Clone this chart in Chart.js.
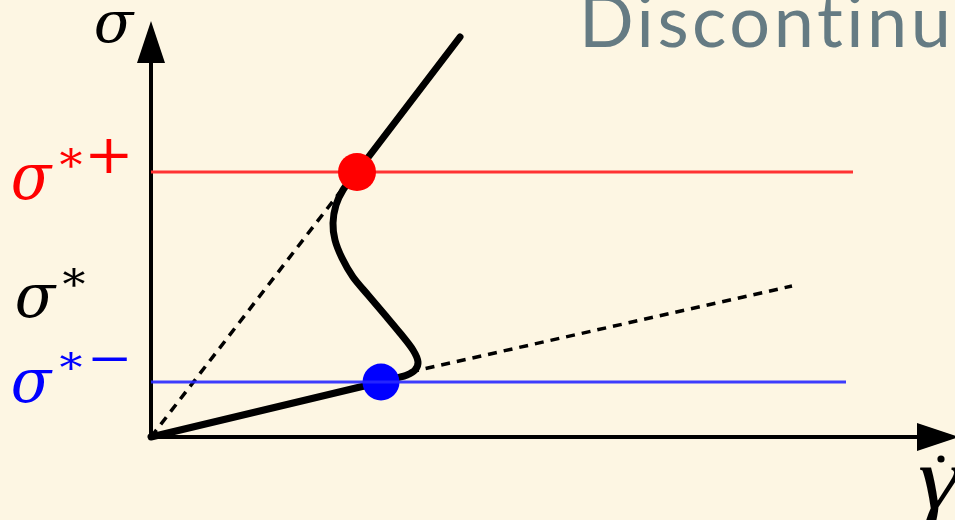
<!DOCTYPE html>
<html>
<head>
<meta charset="utf-8">
<style>
  html, body { margin: 0; padding: 0; background: #fdf6e3; }
  canvas { display: block; }
</style>
<script src="https://cdn.jsdelivr.net/npm/chart.js@4/dist/chart.umd.min.js"></script>
</head>
<body>
<canvas id="flow" width="955" height="520"></canvas>
<script>
// Flow curve sketch: shear stress sigma against shear rate gamma-dot,
// with an S-shaped (unstable) branch between two stress thresholds.
const lowerBranch = [[0, 0], [230, 55]];
const sBranch = [[230, 55], [246, 59], [256, 62], [264, 67], [267, 75], [262, 87],
                 [249, 104], [234, 122], [217, 142], [202, 160], [191, 179],
                 [184, 197], [182, 214], [185, 232], [192, 247], [206, 265]];
const upperBranch = [[206, 265], [309, 400]];
const upperGuide = [[0, 0], [189, 245]];
const lowerGuide = [[259, 65], [641, 151]];
const sigmaPlus = 265;
const sigmaMinus = 55;
const sigmaPlusEnd = 702;
const sigmaMinusEnd = 695;
const jumpPoints = { plus: [206, 265], minus: [230, 55] };
const axisEnds = { y: [0, 375], x: [766, 0] };
const arrowTips = { y: [0, 395], x: [787, 0] };

const toPts = arr => arr.map(([x, y]) => ({ x, y }));

// arrow head sprite (pointing up), rotated for the horizontal axis
function arrowHead(w, h) {
  const c = document.createElement('canvas');
  c.width = w; c.height = h;
  const g = c.getContext('2d');
  g.fillStyle = '#000';
  g.beginPath();
  g.moveTo(w / 2, 0);
  g.lineTo(w, h);
  g.lineTo(0, h);
  g.closePath();
  g.fill();
  return c;
}
const head = arrowHead(28, 42);

const bgPlugin = {
  id: 'bg',
  beforeDraw(chart) {
    const { ctx, width, height } = chart;
    ctx.save();
    ctx.fillStyle = '#fdf6e3';
    ctx.fillRect(0, 0, width, height);
    ctx.restore();
  }
};

// draw one glyph stretched into the box (x0,y0)-(x1,y1)
function fitGlyph(ctx, ch, font, color, x0, y0, x1, y1) {
  ctx.save();
  ctx.font = font;
  ctx.textAlign = 'left';
  ctx.textBaseline = 'alphabetic';
  const m = ctx.measureText(ch);
  const w = m.actualBoundingBoxLeft + m.actualBoundingBoxRight;
  const h = m.actualBoundingBoxAscent + m.actualBoundingBoxDescent;
  ctx.translate(x0, y0);
  ctx.scale((x1 - x0) / w, (y1 - y0) / h);
  ctx.fillStyle = color;
  ctx.fillText(ch, m.actualBoundingBoxLeft, m.actualBoundingBoxAscent);
  ctx.restore();
}

const labelPlugin = {
  id: 'labels',
  afterDraw(chart) {
    const { ctx } = chart;
    const py = v => chart.scales.y.getPixelForValue(v);
    const SIG = 'italic 100px "DejaVu Serif"';
    const UP = '100px "DejaVu Serif"';

    // title, spread to run from x=585 to x=948
    ctx.save();
    ctx.fillStyle = '#657b83';
    ctx.font = '72px Lato';
    ctx.textBaseline = 'alphabetic';
    const title = 'Discontinu';
    const tm = ctx.measureText(title);
    const natural = tm.actualBoundingBoxLeft + tm.actualBoundingBoxRight;
    const gap = Math.max(0, (363 - natural) / (title.length - 1));
    ctx.letterSpacing = gap.toFixed(2) + 'px';
    ctx.fillText(title, 585 + tm.actualBoundingBoxLeft, 47);
    ctx.restore();

    // axis name
    fitGlyph(ctx, 'σ', SIG, '#000', 95, 12, 135, 43);

    // upper threshold sigma*+
    const yp = py(sigmaPlus);
    fitGlyph(ctx, 'σ', SIG, '#ff0000', 12, yp - 7, 53, yp + 28);
    fitGlyph(ctx, '*', UP, '#ff0000', 60, yp - 25, 82, yp - 5);
    fitGlyph(ctx, '+', UP, '#ff0000', 90, yp - 32, 128, yp + 1);

    // critical stress sigma*
    fitGlyph(ctx, 'σ', SIG, '#000', 16, 285, 57, 318);
    fitGlyph(ctx, '*', UP, '#000', 63, 268, 85, 287);

    // lower threshold sigma*-
    const ym = py(sigmaMinus);
    fitGlyph(ctx, 'σ', SIG, '#0000ff', 12, ym - 12, 53, ym + 21);
    fitGlyph(ctx, '*', UP, '#0000ff', 60, ym - 30, 82, ym - 12);
    fitGlyph(ctx, '−', UP, '#0000ff', 92, ym - 25, 127, ym - 21);

    // shear-rate label with its dot
    fitGlyph(ctx, 'γ', 'italic 100px "Liberation Serif"', '#000', 919, 467, 962, 526);
    ctx.save();
    ctx.fillStyle = '#000';
    ctx.beginPath();
    ctx.arc(941, 459, 3.6, 0, Math.PI * 2);
    ctx.fill();
    ctx.restore();
  }
};

const lineDs = (data, color, width, extra) => Object.assign({
  data: toPts(data), showLine: true, borderColor: color, borderWidth: width,
  pointRadius: 0, pointHoverRadius: 0, fill: false, clip: false, tension: 0
}, extra || {});

new Chart(document.getElementById('flow'), {
  type: 'scatter',
  data: {
    datasets: [
      // first datasets are painted on top
      lineDs([[0, sigmaMinus], [sigmaMinusEnd, sigmaMinus]], 'rgba(40,40,255,0.9)', 3),
      {
        data: toPts([jumpPoints.plus]), pointRadius: 19, pointHoverRadius: 19,
        backgroundColor: '#ff0000', borderWidth: 0, showLine: false, clip: false
      },
      {
        data: toPts([jumpPoints.minus]), pointRadius: 18.5, pointHoverRadius: 18.5,
        backgroundColor: '#0000ff', borderWidth: 0, showLine: false, clip: false
      },
      lineDs(lowerBranch, '#000', 7, { borderCapStyle: 'round' }),
      lineDs(sBranch, '#000', 7, { tension: 0.3, borderCapStyle: 'round', borderJoinStyle: 'round' }),
      lineDs(upperBranch, '#000', 7, { borderCapStyle: 'round' }),
      lineDs([[0, sigmaPlus], [sigmaPlusEnd, sigmaPlus]], '#ff3333', 3),
      lineDs(upperGuide, '#000', 3.5, { borderDash: [9, 7] }),
      lineDs(lowerGuide, '#000', 3.5, { borderDash: [9, 7] }),
      // axes
      lineDs([[0, 0], axisEnds.y], '#000', 4),
      lineDs([[0, 0], axisEnds.x], '#000', 4),
      {
        data: toPts([arrowTips.y]), pointStyle: head, rotation: 0,
        pointRadius: 14, showLine: false, clip: false
      },
      {
        data: toPts([arrowTips.x]), pointStyle: head, rotation: 90,
        pointRadius: 14, showLine: false, clip: false
      }
    ]
  },
  options: {
    responsive: false,
    animation: false,
    devicePixelRatio: 1,
    events: [],
    layout: { padding: 0, autoPadding: false },
    plugins: { legend: { display: false }, tooltip: { enabled: false } },
    scales: {
      x: { type: 'linear', min: -151, max: 804, display: false },
      y: { type: 'linear', min: -83, max: 437, display: false }
    }
  },
  plugins: [bgPlugin, labelPlugin]
});
</script>
</body>
</html>
